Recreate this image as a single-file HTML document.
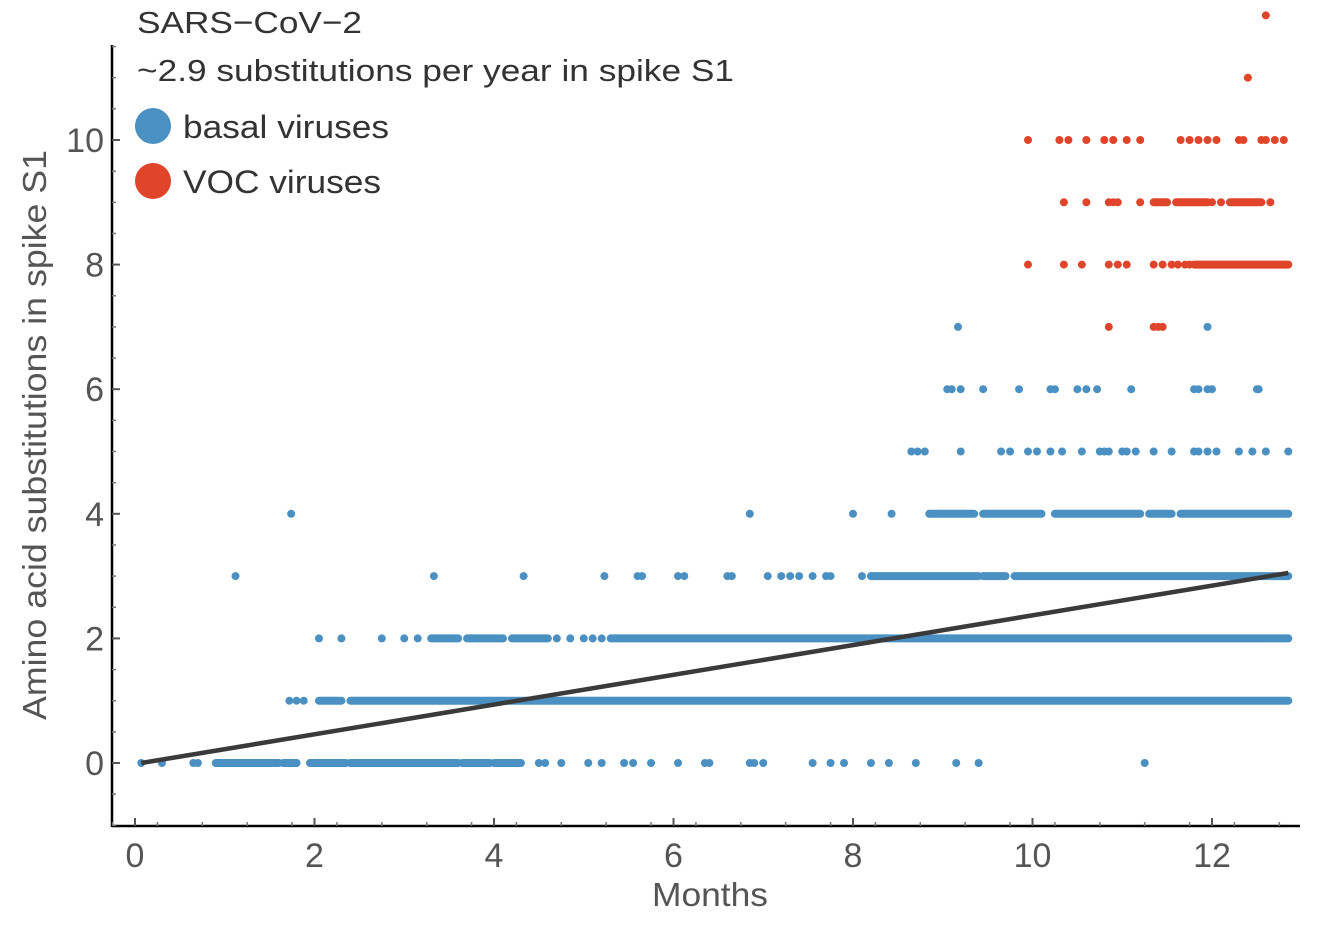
<!DOCTYPE html>
<html><head><meta charset="utf-8">
<style>
html,body{margin:0;padding:0;background:#fff;}
svg{display:block;font-family:"Liberation Sans",sans-serif;}
</style></head>
<body>
<svg id="chart" width="1333" height="927" viewBox="0 0 1333 927" xmlns="http://www.w3.org/2000/svg">
<g id="axes"></g>
<g id="marks"></g>
<g id="fit"></g>
<text x="137" y="33" font-size="31" fill="#333" textLength="225" lengthAdjust="spacingAndGlyphs">SARS−CoV−2</text>
<text x="137" y="81" font-size="31" fill="#333" textLength="597" lengthAdjust="spacingAndGlyphs">~2.9 substitutions per year in spike S1</text>
<circle cx="153" cy="126" r="18" fill="#4a90c2"/>
<text x="183" y="138" font-size="32" fill="#333" textLength="206" lengthAdjust="spacingAndGlyphs">basal viruses</text>
<circle cx="153" cy="181" r="18" fill="#e0442a"/>
<text x="183" y="193" font-size="32" fill="#333" textLength="198" lengthAdjust="spacingAndGlyphs">VOC viruses</text>
<text x="652" y="906" font-size="33" fill="#555" textLength="116" lengthAdjust="spacingAndGlyphs">Months</text>
<text transform="translate(46,720) rotate(-90)" font-size="33" fill="#555" textLength="570" lengthAdjust="spacingAndGlyphs">Amino acid substitutions in spike S1</text>
</svg>
<script>
const xTicks=[0,2,4,6,8,10,12];
const yTicks=[0,2,4,6,8,10];
// basal: sparse points per level [level, months...]
const basalPoints=[
[0,[0.07,0.3,0.65,0.7,4.5,4.57,4.75,5.05,5.2,5.45,5.55,5.75,6.05,6.35,6.4,6.85,6.9,7.0,7.55,7.75,7.9,8.2,8.4,8.7,9.15,9.4,11.25]],
[1,[1.72,1.8,1.88]],
[2,[2.05,2.3,2.75,3.0,3.15,4.7,4.85,5.0,5.1,5.2]],
[3,[1.12,3.33,4.33,5.23,5.6,5.65,6.05,6.12,6.6,6.65,7.05,7.2,7.3,7.4,7.55,7.7,7.75,8.1]],
[4,[1.74,6.85,8.0,8.43]],
[5,[8.65,8.72,8.8,9.2,9.65,9.75,9.95,10.05,10.2,10.33,10.55,10.75,10.8,10.85,11.0,11.05,11.15,11.35,11.55,11.8,11.85,11.95,12.05,12.3,12.45,12.6,12.85]],
[6,[9.05,9.1,9.2,9.45,9.85,10.2,10.25,10.5,10.6,10.72,11.1,11.8,11.85,11.95,12.0,12.5,12.52]],
[7,[9.17,11.95]]
];
// basal: dense runs [level, start, end]
const basalRuns=[
[0,0.9,1.6],[0,1.65,1.8],[0,1.95,2.35],[0,2.4,3.6],[0,3.65,3.95],[0,4.0,4.3],
[1,2.05,2.3],[1,2.4,12.85],
[2,3.3,3.6],[2,3.7,4.1],[2,4.2,4.6],[2,5.3,12.85],
[3,8.2,9.4],[3,9.45,9.7],[3,9.8,12.85],
[4,8.85,9.35],[4,9.45,10.1],[4,10.25,11.2],[4,11.3,11.55],[4,11.65,12.85]
];
const vocPoints=[
[7,[10.85,11.35,11.4,11.45]],
[8,[9.95,10.35,10.55,10.85,10.95,11.05,11.35,11.45,11.55,11.62,11.7,11.75]],
[9,[10.35,10.6,10.85,10.9,10.95,11.2,12.0,12.1,12.65]],
[10,[9.95,10.3,10.4,10.6,10.8,10.9,11.05,11.2,11.65,11.75,11.85,11.95,12.05,12.3,12.35,12.55,12.6,12.7,12.8]],
[11,[12.4]],
[12,[12.6]]
];
const vocRuns=[[8,11.8,12.85],[9,11.35,11.5],[9,11.6,11.95],[9,12.2,12.55]];
const fitStart=[0.07,0];
const fitEnd=[12.85,3.05];

const NS='http://www.w3.org/2000/svg';
const X=m=>135+m*89.75;
const Y=v=>763-v*62.3;
function mk(tag,attrs,parent){const e=document.createElementNS(NS,tag);for(const k in attrs)e.setAttribute(k,attrs[k]);parent.appendChild(e);return e;}
const axes=document.getElementById('axes'),marks=document.getElementById('marks'),fit=document.getElementById('fit');
let a=mk('line',{x1:112,y1:826,x2:1300,y2:826,stroke:'#000','stroke-width':2.5},axes);


a=mk('line',{x1:112,y1:45,x2:112,y2:827,stroke:'#000','stroke-width':2.5},axes);


for(let m=-0.25;m<=13;m+=0.5){const t=mk('line',{x1:X(m),y1:826,x2:X(m),y2:822,stroke:'#777','stroke-width':1.5},axes);

}
for(let v=-1;v<=11.5;v+=0.5){const t=mk('line',{x1:112,y1:Y(v),x2:116,y2:Y(v),stroke:'#777','stroke-width':1.5},axes);

}
xTicks.forEach(m=>{const t=mk('line',{x1:X(m),y1:826,x2:X(m),y2:818,stroke:'#555','stroke-width':2},axes);


const l=mk('text',{x:X(m),y:867,'font-size':34,fill:'#555','text-anchor':'middle'},axes);l.textContent=m;

});
yTicks.forEach(v=>{const t=mk('line',{x1:112,y1:Y(v),x2:120,y2:Y(v),stroke:'#555','stroke-width':2},axes);


const l=mk('text',{x:104,y:Y(v)+12,'font-size':34,fill:'#555','text-anchor':'end'},axes);l.textContent=v;

});
function drawPts(list,col,name){list.forEach(([lv,xs])=>xs.forEach(m=>{const c=mk('circle',{cx:X(m),cy:Y(lv),r:4,fill:col},marks);

}));}
function drawRuns(list,col,name){list.forEach(([lv,s,e])=>{const r=mk('line',{x1:X(s),y1:Y(lv),x2:X(e),y2:Y(lv),stroke:col,'stroke-width':8,'stroke-linecap':'round'},marks);

});}
drawRuns(basalRuns,'#4a90c2','basal-point-cluster');
drawPts(basalPoints,'#4a90c2','basal-point');
drawRuns(vocRuns,'#e0442a','voc-point-cluster');
drawPts(vocPoints,'#e0442a','voc-point');
const f=mk('line',{x1:X(fitStart[0]),y1:Y(fitStart[1]),x2:X(fitEnd[0]),y2:Y(fitEnd[1]),stroke:'#3a3a3a','stroke-width':4.5},fit);


</script>
</body></html>
